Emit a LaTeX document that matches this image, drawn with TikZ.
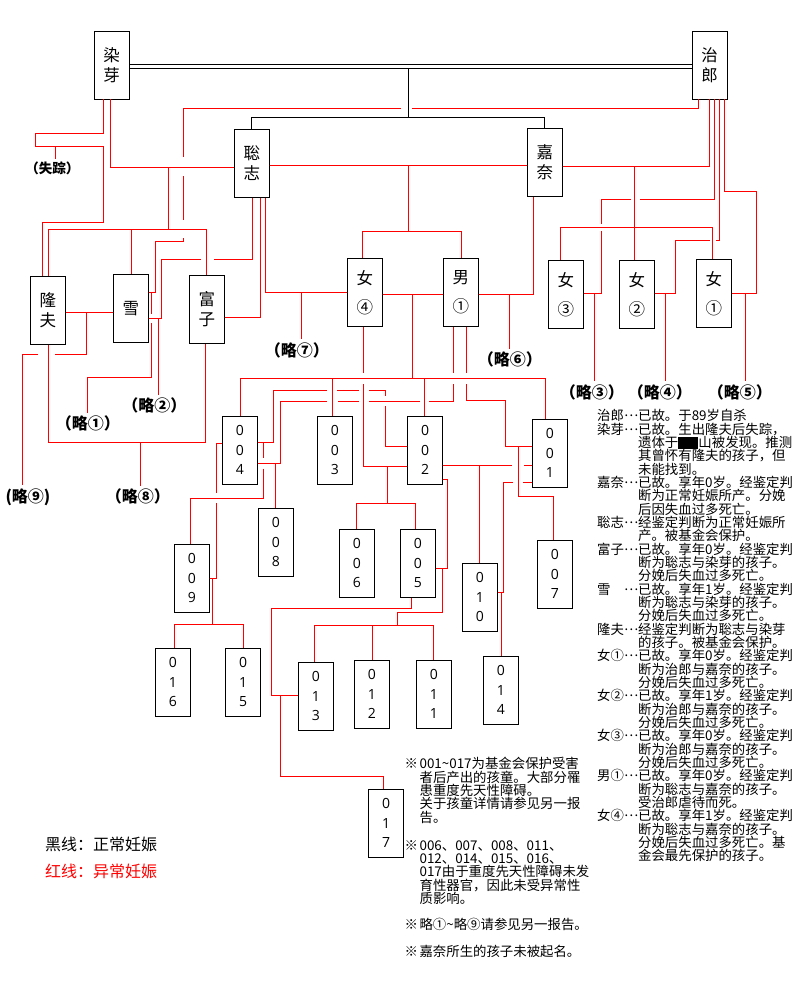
\documentclass[tikz,border=0pt]{standalone}
\usepackage{fontspec}
\setmainfont{Open Sans}
\newfontfamily\cjk{Noto Sans CJK SC}
\newcommand\mydots{\raisebox{0.3em}{…}}
\newcommand\myind{\hphantom{治郎\mydots}}
\newcommand\myst{\hphantom{※}\hspace{1.5pt}}
\newcommand\lb[1]{\hspace{-0.4em}（#1）\hspace{-0.4em}}
\begin{document}
\begin{tikzpicture}[x=1pt,y=-1pt,
  box/.style={draw=black,line width=0.8pt,minimum width=35pt,minimum height=68pt,inner sep=0pt,align=center,font=\cjk\fontsize{16.5}{20}\selectfont},
  gbox/.style={box,font=\cjk\fontsize{16.5}{29}\selectfont},
  nbox/.style={box,font=\fontsize{14}{19.5}\selectfont},
  rl/.style={draw=red,line width=0.8pt},
  bl/.style={draw=black,line width=0.8pt},
  lab/.style={inner xsep=0pt,inner ysep=3pt,font=\cjk\bfseries\fontsize{16}{16}\selectfont},
  txt/.style={anchor=north west,inner sep=0pt,align=left,font=\cjk\fontsize{13.4}{13.33}\selectfont},
]
\useasboundingbox[fill=white] (0,0) rectangle (800,990);

% ---- people boxes
\node[box] (ry) at (111.7,65) {染\\芽};
\node[box] (zl) at (709.7,65) {治\\郎};
\node[box] (cz) at (251.8,163.3) {聡\\志};
\node[box] (jn) at (544.8,162.3) {嘉\\奈};
\node[box] (lf) at (47.8,310.3) {隆\\夫};
\node[box] (xue) at (130.8,308.3) {雪};
\node[box] (fz) at (206.8,309.3) {富\\子};
\node[gbox] (n4) at (364.8,292.3) {女\\④};
\node[gbox] (m1) at (460.8,292.3) {男\\①};
\node[gbox] (n3) at (565.8,294.3) {女\\③};
\node[gbox] (n2) at (636.8,294.3) {女\\②};
\node[gbox] (n1) at (713.8,293.3) {女\\①};
% ---- children
\node[nbox] (c004) at (239.8,450.3) {0\\0\\4};
\node[nbox] (c003) at (334.8,450.3) {0\\0\\3};
\node[nbox] (c002) at (425,450.3) {0\\0\\2};
\node[nbox] (c001) at (549.8,453.3) {0\\0\\1};
\node[nbox] (c008) at (275.8,542.3) {0\\0\\8};
\node[nbox] (c009) at (191.8,578.2) {0\\0\\9};
\node[nbox] (c006) at (356.8,563.3) {0\\0\\6};
\node[nbox] (c005) at (417.8,563.3) {0\\0\\5};
\node[nbox] (c010) at (479.8,597.2) {0\\1\\0};
\node[nbox] (c007) at (554.8,574.3) {0\\0\\7};
\node[nbox] (c016) at (172.8,682.3) {0\\1\\6};
\node[nbox] (c015) at (243.2,682.3) {0\\1\\5};
\node[nbox] (c013) at (315.8,696) {0\\1\\3};
\node[nbox] (c012) at (371.8,694.3) {0\\1\\2};
\node[nbox] (c011) at (433.8,694.3) {0\\1\\1};
\node[nbox] (c014) at (500.8,690.2) {0\\1\\4};
\node[nbox] (c017) at (386,823.3) {0\\1\\7};

% ---- labels
\node[lab,font=\cjk\bfseries\fontsize{13.5}{13.5}\selectfont] (sz) at (55,168.5) {\lb{失踪}};
\node[lab] (l1) at (91,423.5) {\lb{略①}};
\node[lab] (l2) at (157.5,405.5) {\lb{略②}};
\node[lab] (l9) at (28,497) {(略⑨)};
\node[lab] (l8) at (141,496.5) {\lb{略⑧}};
\node[lab] (l7) at (300,350) {\lb{略⑦}};
\node[lab] (l6) at (513,359.5) {\lb{略⑥}};
\node[lab] (l3) at (595,392) {\lb{略③}};
\node[lab] (l4) at (663,392) {\lb{略④}};
\node[lab] (l5) at (743,392) {\lb{略⑤}};

% ---- black lines
\draw[bl] (ry.east |- 0,64.3) -- (zl.west |- 0,64.3);
\draw[bl] (ry.east |- 0,68.3) -- (zl.west |- 0,68.3);
\coordinate (mar) at (408.3,68.3);
\draw[bl] (mar) -- (408.3,117.5);
\draw[bl] (cz.north) -- (cz.north |- 0,117.5) -- (jn.north |- 0,117.5) -- (jn.north);

% ---- red lines
% R1 (失踪)
\draw[rl] (ry.south -| 103.3,0) -- (103.3,133.3) -- (35.3,133.3) -- (35.3,146.3) -- (103.3,146.3) -- (103.3,222.7) -- (42.3,222.7) -- (lf.north -| 42.3,0);
\draw[rl] (55.3,146.3) -- (sz.north -| 55.3,0);
% R2 聡志 x 染芽
\draw[rl] (ry.south -| 110.3,0) |- (cz.west |- 0,167);
\draw[rl] (168.3,167) -- (168.3,229.3);
\draw[rl] (lf.north -| 48.3,0) -- (48.3,229.3) -- (206.3,229.3) -- (fz.north -| 206.3,0);
\draw[rl] (131.3,229.3) -- (xue.north -| 131.3,0);
% R3 治郎 -> 雪
\draw[rl] (zl.south -| 698.3,0) -- (698.3,108) -- (412,108);
\draw[rl] (400.7,108) -- (183.3,108) -- (183.3,157);
\draw[rl] (183.3,176) -- (183.3,220);
\draw[rl] (183.3,238) -- (183.3,241.7) -- (155.3,241.7) -- (155.3,292.3) -- (xue.east |- 0,292.3);
% R4 聡志 -> 雪
\draw[rl] (cz.south -| 252.3,0) -- (252.3,259.3) -- (214,259.3);
\draw[rl] (200.7,259.3) -- (161.3,259.3) -- (161.3,318.3) -- (xue.east |- 0,318.3);
\draw[rl] (158.3,318.3) -- (l2.north -| 158.3,0);
% R5 略1
\draw[rl] (151.7,292.3) -- (151.7,313.5);
\draw[rl] (151.7,323) -- (151.7,377) -- (87.3,377) -- (l1.north -| 87.3,0);
% R6, R7
\draw[rl] (cz.south -| 260.3,0) -- (260.3,317.3) -- (fz.east |- 0,317.3);
\draw[rl] (cz.south -| 265,0) -- (265,292.7) -- (n4.west |- 0,292.7);
\draw[rl] (301.3,292.7) -- (l7.north -| 301.3,0);
% R8 聡志 x 嘉奈
\draw[rl] (cz.east |- 0,165.3) -- (jn.west |- 0,165.3);
\draw[rl] (408.3,165.3) -- (408.3,231);
\draw[rl] (n4.north -| 362.3,0) -- (362.3,231) -- (461.3,231) -- (m1.north -| 461.3,0);
% R9 女4 x 男1
\draw[rl] (n4.east |- 0,294.3) -- (m1.west |- 0,294.3);
\draw[rl] (412.7,294.3) -- (412.7,378);
\draw[rl] (c004.north -| 240.7,0) -- (240.7,378) -- (545.7,378) -- (c001.north -| 545.7,0);
\draw[rl] (332.7,378) -- (c003.north -| 332.7,0);
\draw[rl] (424.3,378) -- (c002.north -| 424.3,0);
% R10 男1 x 嘉奈
\draw[rl] (m1.east |- 0,294.3) -- (533.3,294.3) -- (jn.south -| 533.3,0);
\draw[rl] (509.3,294.3) -- (l6.north -| 509.3,0);
% R11 女4 -> 002
\draw[rl] (n4.south -| 363.3,0) -- (363.3,373);
\draw[rl] (363.3,384) -- (363.3,466) -- (c002.west |- 0,466);
\draw[rl] (387.7,466) -- (387.7,503.3);
\draw[rl] (c006.north -| 356.7,0) -- (356.7,503.3) -- (415.3,503.3) -- (c005.north -| 415.3,0);
% R12 男1 -> 004
\draw[rl] (m1.south -| 453.3,0) -- (453.3,373);
\draw[rl] (453.3,384) -- (453.3,401) -- (428.5,401);
\draw[rl] (420,401) -- (369,401);
\draw[rl] (359,401) -- (337.5,401);
\draw[rl] (327,401) -- (280.7,401) -- (280.7,463.3) -- (c004.east |- 0,463.3);
\draw[rl] (275.7,463.3) -- (c008.north -| 275.7,0);
% R13 004 -> 002
\draw[rl] (c004.east |- 0,442.3) -- (273.3,442.3) -- (273.3,390.3) -- (326.7,390.3);
\draw[rl] (337.3,390.3) -- (359,390.3);
\draw[rl] (369,390.3) -- (385.7,390.3) -- (385.7,396);
\draw[rl] (385.7,406) -- (385.7,446) -- (c002.west |- 0,446);
\draw[rl] (263.3,442.3) -- (263.3,458);
\draw[rl] (263.3,468.5) -- (263.3,498.3) -- (190.3,498.3) -- (c009.north -| 190.3,0);
% R14 004 -> 009
\draw[rl] (c004.west |- 0,443.3) -- (216,443.3) -- (216,492.7);
\draw[rl] (216,503.3) -- (216,578.3) -- (c009.east |- 0,578.3);
\draw[rl] (212.3,578.3) -- (212.3,624);
\draw[rl] (c016.north -| 174.3,0) -- (174.3,624) -- (243.3,624) -- (c015.north -| 243.3,0);
% R15 男1 -> 001
\draw[rl] (m1.south -| 466.7,0) -- (466.7,373);
\draw[rl] (466.7,384) -- (466.7,400.3) -- (505,400.3) -- (505,446) -- (c001.west |- 0,446);
\draw[rl] (518.3,446) -- (518.3,496) -- (553.3,496) -- (c007.north -| 553.3,0);
% R16 002 -> 001
\draw[rl] (c002.east |- 0,465.3) -- (512,465.3);
\draw[rl] (524,465.3) -- (c001.west |- 0,465.3);
\draw[rl] (479,465.3) -- (c010.north -| 479,0);
% R17 010 -> 001
\draw[rl] (c001.west |- 0,482.3) -- (523,482.3);
\draw[rl] (513,482.3) -- (503.3,482.3) -- (503.3,592.3) -- (c010.east |- 0,592.3);
\draw[rl] (501.3,592.3) -- (c014.north -| 501.3,0);
% R18 002 -> 005
\draw[rl] (c002.east |- 0,479.3) -- (447,479.3) -- (447,568.3) -- (c005.east |- 0,568.3);
\draw[rl] (442.3,568.3) -- (442.3,612.3) -- (397.3,612.3) -- (397.3,625.3);
\draw[rl] (c013.north -| 314.3,0) -- (314.3,625.3) -- (433.3,625.3) -- (c011.north -| 433.3,0);
\draw[rl] (372.3,625.3) -- (c012.north -| 372.3,0);
% R19 005 -> 013
\draw[rl] (c005.south -| 411.7,0) -- (411.7,608.3) -- (271,608.3) -- (271,695.7) -- (c013.west |- 0,695.7);
\draw[rl] (280.3,695.7) -- (280.3,776) -- (383.3,776) -- (c017.north -| 383.3,0);
% R20 隆夫 x 雪
\draw[rl] (lf.east |- 0,312) -- (xue.west |- 0,312);
\draw[rl] (86.7,312) -- (86.7,354.3) -- (55,354.3);
\draw[rl] (38,354.3) -- (22.3,354.3) -- (l9.north -| 22.3,0);
% R21 隆夫 x 富子
\draw[rl] (lf.south -| 48.3,0) -- (48.3,442.3) -- (205.3,442.3) -- (fz.south -| 205.3,0);
\draw[rl] (140.3,442.3) -- (l8.north -| 140.3,0);
% R22 治郎 x 嘉奈
\draw[rl] (zl.south -| 709.3,0) -- (709.3,166) -- (jn.east |- 0,166);
\draw[rl] (634.3,166) -- (n2.north -| 634.3,0);
\draw[rl] (n3.north -| 560.3,0) -- (560.3,227.3) -- (712.3,227.3) -- (n1.north -| 712.3,0);
% R23 治郎 -> 女3
\draw[rl] (zl.south -| 714.3,0) -- (714.3,199.3) -- (640,199.3);
\draw[rl] (630.5,199.3) -- (601.3,199.3) -- (601.3,223.5);
\draw[rl] (601.3,231) -- (601.3,293.7) -- (n3.east |- 0,293.7);
\draw[rl] (594.3,293.7) -- (l3.north -| 594.3,0);
% R24 治郎 -> 女2
\draw[rl] (zl.south -| 719.3,0) -- (719.3,240.7) -- (715.5,240.7);
\draw[rl] (709.5,240.7) -- (675.7,240.7) -- (675.7,293) -- (n2.east |- 0,293);
\draw[rl] (665.7,293) -- (l4.north -| 665.7,0);
% R25 治郎 -> 女1
\draw[rl] (zl.south -| 724,0) -- (724,191.3) -- (756.3,191.3) -- (756.3,293) -- (n1.east |- 0,293);
\draw[rl] (745.7,293) -- (l5.north -| 745.7,0);

% ---- text blocks
\node[txt] (info) at (597,409.3) {治郎\mydots 已故。于89岁自杀\\
染芽\mydots 已故。生出隆夫后失踪，\\
\myind 遗体于\rule[-0.1em]{1.5em}{0.85em}山被发现。推测\\
\myind 其曾怀有隆夫的孩子，但\\
\myind 未能找到。\\
嘉奈\mydots 已故。享年0岁。经鉴定判\\
\myind 断为正常妊娠所产。分娩\\
\myind 后因失血过多死亡。\\
聡志\mydots 经鉴定判断为正常妊娠所\\
\myind 产。被基金会保护。\\
富子\mydots 已故。享年0岁。经鉴定判\\
\myind 断为聡志与染芽的孩子。\\
\myind 分娩后失血过多死亡。\\
雪\hphantom{雪}\mydots 已故。享年1岁。经鉴定判\\
\myind 断为聡志与染芽的孩子。\\
\myind 分娩后失血过多死亡。\\
隆夫\mydots 经鉴定判断为聡志与染芽\\
\myind 的孩子。被基金会保护。\\
女①\mydots 已故。享年0岁。经鉴定判\\
\myind 断为治郎与嘉奈的孩子。\\
\myind 分娩后失血过多死亡。\\
女②\mydots 已故。享年1岁。经鉴定判\\
\myind 断为治郎与嘉奈的孩子。\\
\myind 分娩后失血过多死亡。\\
女③\mydots 已故。享年0岁。经鉴定判\\
\myind 断为治郎与嘉奈的孩子。\\
\myind 分娩后失血过多死亡。\\
男①\mydots 已故。享年0岁。经鉴定判\\
\myind 断为聡志与嘉奈的孩子。\\
\myind 受治郎虐待而死。\\
女④\mydots 已故。享年1岁。经鉴定判\\
\myind 断为聡志与嘉奈的孩子。\\
\myind 分娩后失血过多死亡。基\\
\myind 金会最先保护的孩子。};

\node[txt] (note1) at (404.5,757.3) {※\hspace{1.5pt}001\textasciitilde 017为基金会保护受害\\
\myst 者后产出的孩童。大部分罹\\
\myst 患重度先天性障碍。\\
\myst 关于孩童详情请参见另一报\\
\myst 告。};
\node[txt] (note2) at (404.5,840) {※\hspace{1.5pt}006、007、008、011、\\
\myst 012、014、015、016、\\
\myst 017由于重度先天性障碍未发\\
\myst 育性器官，因此未受异常性\\
\myst 质影响。};
\node[txt] (note3) at (404.5,918.3) {※\hspace{1.5pt}略①\textasciitilde 略⑨请参见另一报告。};
\node[txt] (note4) at (404.5,945) {※\hspace{1.5pt}嘉奈所生的孩子未被起名。};

% ---- legend
\node[anchor=west,inner sep=0pt,font=\cjk\fontsize{16}{16}\selectfont] (lgb) at (45,844) {黑线：正常妊娠};
\node[anchor=west,inner sep=0pt,text=red,font=\cjk\fontsize{16}{16}\selectfont] (lgr) at (45,871.5) {红线：异常妊娠};
\end{tikzpicture}
\end{document}
